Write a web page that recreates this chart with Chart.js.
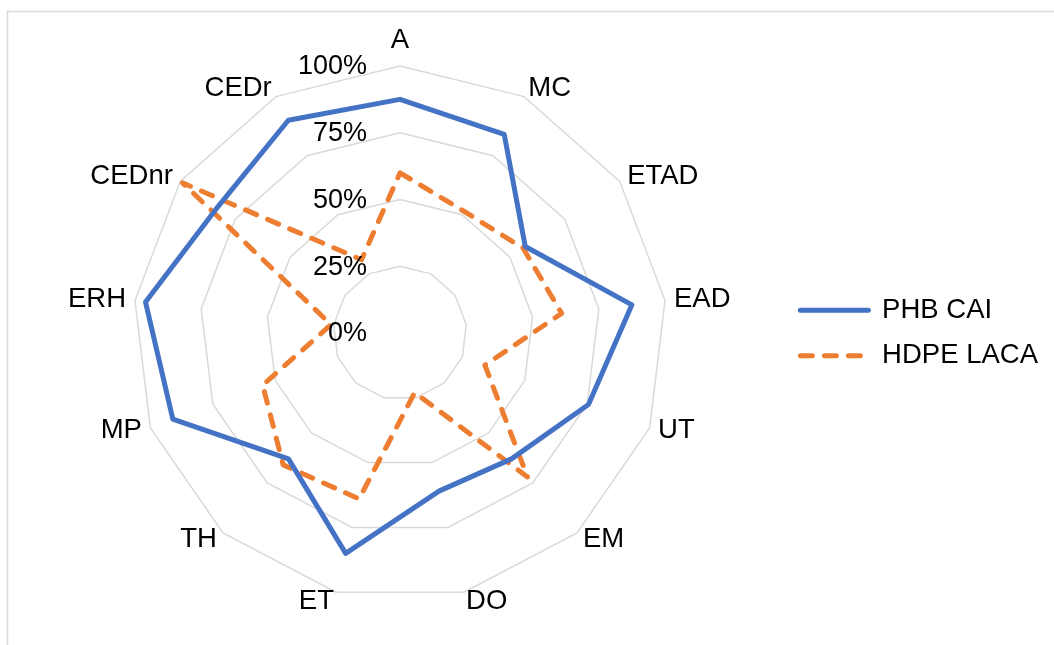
<!DOCTYPE html>
<html>
<head>
<meta charset="utf-8">
<script src="https://cdn.jsdelivr.net/npm/chart.js@4.4.1/dist/chart.umd.min.js"></script>
<style>
  html, body { margin: 0; padding: 0; background: #ffffff; }
  canvas { display: block; }
</style>
</head>
<body>
<canvas id="radar" width="1054" height="645"></canvas>
<script>
// Impact categories, clockwise from the top
const categories = ['A', 'MC', 'ETAD', 'EAD', 'UT', 'EM', 'DO', 'ET', 'TH', 'MP', 'ERH', 'CEDnr', 'CEDr'];

// Relative scores per category (%)
const phbCai   = [87.5, 84, 57, 87.5, 75.5, 63, 61, 85, 63, 91, 96, 83, 90];
const hdpeLaca = [60, 51.5, 56, 61, 34, 72, 23, 64, 66, 55, 26, 99, 31];

// Radial axis tick labels
const tickLabels = ['0%', '25%', '50%', '75%', '100%'];

const FONT = '"Liberation Sans", Arial, sans-serif';
const FONT_SIZE = 27.5;
const TICK_FONT_SIZE = 27;
const GRID = '#d9d9d9';

// Light frame around the whole figure
const framePlugin = {
  id: 'frame',
  beforeDraw(chart) {
    const ctx = chart.ctx;
    ctx.save();
    ctx.strokeStyle = GRID;
    ctx.lineWidth = 1.5;
    ctx.strokeRect(7.5, 11.5, chart.width + 20, chart.height + 20);
    ctx.restore();
  }
};

// Tick labels beside the first spoke and category labels around the web
const labelPlugin = {
  id: 'radarLabels',
  afterDatasetsDraw(chart) {
    const s = chart.scales.r;
    const ctx = chart.ctx;
    ctx.save();
    ctx.fillStyle = '#000000';

    ctx.font = TICK_FONT_SIZE + 'px ' + FONT;
    ctx.textAlign = 'right';
    ctx.textBaseline = 'middle';
    s.ticks.forEach((t, i) => {
      const d = s.getDistanceFromCenterForValue(t.value);
      ctx.fillText(tickLabels[i], s.xCenter - 33, s.yCenter - d + 1);
    });

    ctx.font = FONT_SIZE + 'px ' + FONT;
    chart.data.labels.forEach((lab, i) => {
      const p = s.getPointPosition(i, s.drawingArea + 9);
      const ang = s.getIndexAngle(i);
      const sn = Math.sin(ang), cs = Math.cos(ang);
      let y = p.y;
      if (sn > 0.05) ctx.textAlign = 'left';
      else if (sn < -0.05) ctx.textAlign = 'right';
      else {
        ctx.textAlign = 'center';
        y += cs > 0 ? -17 : 17;
      }
      ctx.textBaseline = 'middle';
      ctx.fillText(lab, p.x, y);
    });
    ctx.restore();
  }
};

new Chart(document.getElementById('radar'), {
  type: 'radar',
  data: {
    labels: categories,
    datasets: [
      {
        label: 'PHB CAI',
        data: phbCai,
        borderColor: '#4472C4',
        backgroundColor: 'rgba(0,0,0,0)',
        borderWidth: 5,
        borderJoinStyle: 'round',
        borderCapStyle: 'round',
        pointRadius: 0,
        pointHoverRadius: 0,
        fill: false
      },
      {
        label: 'HDPE LACA',
        data: hdpeLaca,
        borderColor: '#ED7D31',
        backgroundColor: 'rgba(0,0,0,0)',
        borderWidth: 5,
        borderDash: [12, 12],
        borderJoinStyle: 'round',
        borderCapStyle: 'round',
        pointRadius: 0,
        pointHoverRadius: 0,
        fill: false
      }
    ]
  },
  options: {
    responsive: false,
    animation: false,
    layout: { padding: { left: 18, right: 6, top: 66, bottom: 45 } },
    scales: {
      r: {
        min: 0,
        max: 100,
        ticks: { stepSize: 25, display: false },
        grid: { color: GRID, lineWidth: 1.5, circular: false },
        angleLines: { display: false },
        pointLabels: { display: false }
      }
    },
    plugins: {
      tooltip: { enabled: false },
      legend: {
        position: 'right',
        align: 'center',
        labels: {
          usePointStyle: true,
          pointStyleWidth: 68,
          boxHeight: 10,
          padding: 18,
          color: '#000000',
          font: { family: FONT, size: FONT_SIZE },
          generateLabels(chart) {
            return chart.data.datasets.map((ds, i) => ({
              text: ds.label,
              fillStyle: ds.borderColor,
              strokeStyle: ds.borderColor,
              lineWidth: ds.borderWidth,
              lineDash: ds.borderDash || [],
              lineCap: 'round',
              pointStyle: 'line',
              hidden: false,
              datasetIndex: i
            }));
          }
        }
      }
    }
  },
  plugins: [framePlugin, labelPlugin]
});
</script>
</body>
</html>
